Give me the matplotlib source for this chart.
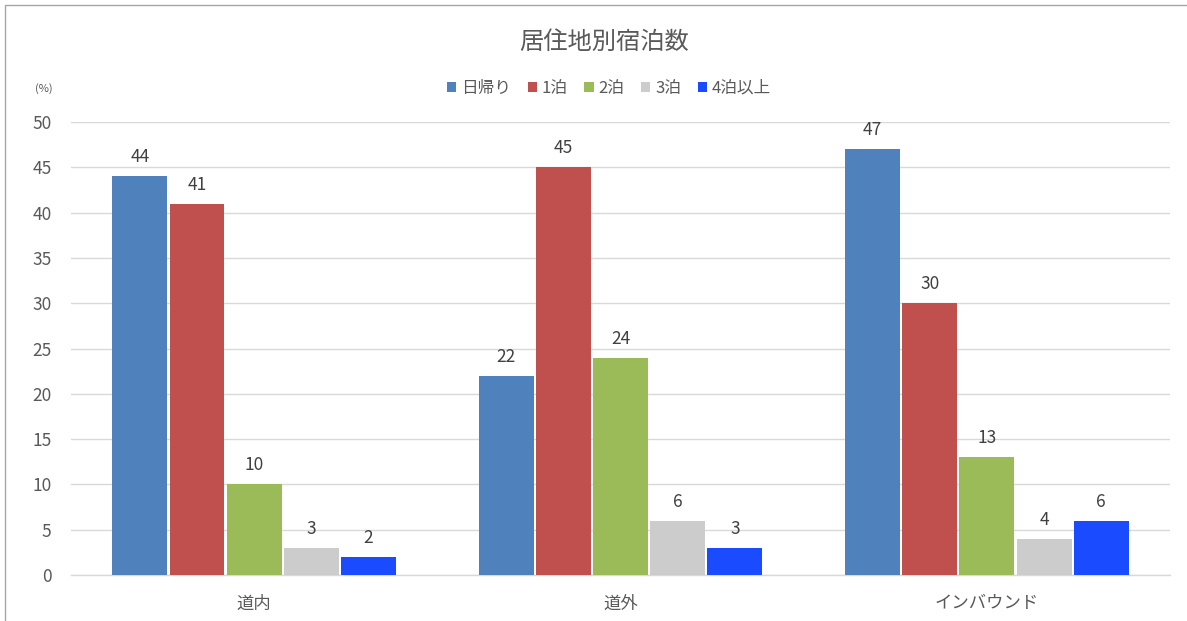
import numpy as np
import matplotlib.pyplot as plt
from matplotlib.patches import Rectangle

plt.rcParams['font.family'] = ['Noto Sans CJK JP', 'DejaVu Sans']

# Residence groups and nights-stayed shares (%)
regions = ['道内', '道外', 'インバウンド']
series = ['日帰り', '1泊', '2泊', '3泊', '4泊以上']
day_trip = [44, 22, 47]
one_night = [41, 45, 30]
two_nights = [10, 24, 13]
three_nights = [3, 6, 4]
four_plus = [2, 3, 6]
values = [day_trip, one_night, two_nights, three_nights, four_plus]
colors = ['#4F81BD', '#C0504D', '#9BBB59', '#CCCCCC', '#1A4BFF']

text_color = '#595959'

fig = plt.figure(figsize=(11.87, 6.21), dpi=100)
ax = fig.add_axes([0.0598, 0.0741, 0.926, 0.7294])

# outer frame of the chart area
fig.patches.append(Rectangle((5 / 1187, -0.01), 1.2, 1 - 5 / 621 + 0.01,
                             transform=fig.transFigure, fill=False,
                             edgecolor='#A6A6A6', linewidth=1.0))

x = np.arange(len(regions))
width = 0.15
step = 0.156
for i, (name, vals, col) in enumerate(zip(series, values, colors)):
    pos = x + (i - 2) * step
    bars = ax.bar(pos, vals, width, color=col, label=name, zorder=3)
    for b, v in zip(bars, vals):
        ax.text(b.get_x() + b.get_width() / 2, v + 1.1, str(v),
                ha='center', va='bottom', fontsize=12.5, color='#404040')

ax.set_xlim(-0.5, 2.5)
ax.set_ylim(0, 50)
ax.set_yticks(range(0, 51, 5))
ax.set_xticks(x)
ax.set_xticklabels(regions)
ax.yaxis.grid(True, color='#D9D9D9', linewidth=1.0, zorder=0)
for s in ['top', 'right', 'left']:
    ax.spines[s].set_visible(False)
ax.spines['bottom'].set_color('#D9D9D9')
ax.spines['bottom'].set_linewidth(1.0)
ax.tick_params(axis='both', length=0, colors=text_color, labelsize=12.5)
ax.tick_params(axis='y', pad=14)
ax.tick_params(axis='x', pad=14)

fig.text(604 / 1187, 1 - 42 / 621, '居住地別宿泊数', ha='center', va='center',
         fontsize=17.5, color=text_color)
fig.text(35 / 1187, 1 - 89 / 621, '(%)', ha='left', va='center',
         fontsize=8, color=text_color)

leg = fig.legend(loc='center', bbox_to_anchor=(609 / 1187, 1 - 88 / 621), ncol=5,
                 frameon=False, fontsize=12, handlelength=0.55, handleheight=0.55,
                 handletextpad=0.3, columnspacing=1.0)
for t in leg.get_texts():
    t.set_color(text_color)

fig.savefig('out.png', dpi=100, facecolor='white')
